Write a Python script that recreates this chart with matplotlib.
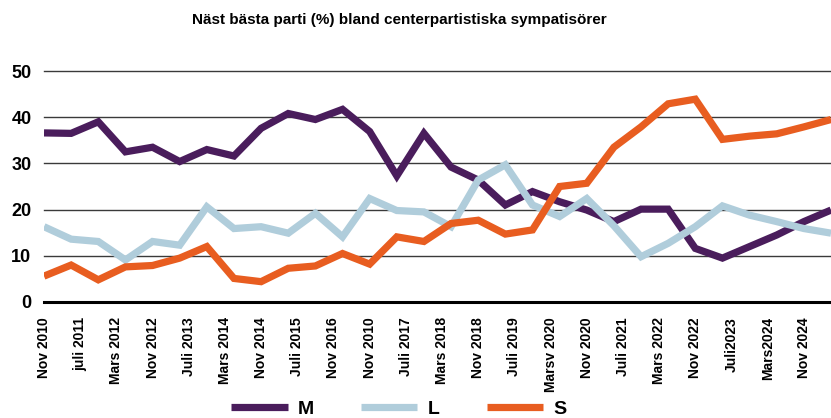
import numpy as np
import matplotlib
matplotlib.use('Agg')
import matplotlib.pyplot as plt

# --- data (30 survey points) --- #
m_vals = [36.6, 36.5, 39.0, 32.5, 33.5, 30.4, 33.0, 31.6, 37.6, 40.8,
          39.5, 41.7, 36.9, 27.3, 36.5, 29.2, 26.4, 21.0, 23.9, 21.7,
          19.9, 17.4, 20.1, 20.1, 11.6, 9.5, 12.0, 14.5, 17.4, 19.9]
l_vals = [16.3, 13.6, 13.1, 9.1, 13.1, 12.3, 20.6, 15.9, 16.3, 14.9,
          19.2, 14.1, 22.4, 19.8, 19.5, 16.3, 26.4, 29.7, 21.0, 18.5,
          22.4, 16.5, 9.8, 12.7, 16.3, 20.8, 18.8, 17.4, 15.9, 14.9]
s_vals = [5.6, 8.0, 4.8, 7.6, 7.9, 9.5, 12.0, 5.1, 4.4, 7.3,
          7.8, 10.5, 8.2, 14.1, 13.1, 17.0, 17.7, 14.7, 15.6, 25.0,
          25.7, 33.5, 37.9, 42.9, 43.9, 35.2, 35.9, 36.4, 37.9, 39.5]

tick_labels = ['Nov 2010', 'juli 2011', 'Mars 2012', 'Nov 2012', 'Juli 2013',
               'Mars 2014', 'Nov 2014', 'Juli 2015', 'Nov 2016', 'Nov 2010',
               'Juli 2017', 'Mars 2018', 'Nov 2018', 'Juli 2019', 'Marsv 2020',
               'Nov 2020', 'Juli 2021', 'Mars 2022', 'Nov 2022', 'Juli2023',
               'Mars2024', 'Nov 2024']

series = ['M', 'L', 'S']
colors = ['#4a1d5c', '#b0cddb', '#e85d20']

fig = plt.figure(figsize=(8.31, 4.18), dpi=100)
ax = fig.add_axes([44 / 831, 1 - 302 / 418, 1 - 44 / 831, (302 - 71) / 418])

x = np.arange(len(m_vals))
for vals, name, col in zip([m_vals, l_vals, s_vals], series, colors):
    ax.plot(x, vals, color=col, lw=5.2, label=name,
            solid_joinstyle='miter', solid_capstyle='butt', zorder=3)

# grid
for yv in [10, 20, 30, 40, 50]:
    ax.axhline(yv, color='#3a3a3a', lw=1.0, zorder=1, clip_on=False)
ax.axhline(0, color='black', lw=2.2, zorder=2, clip_on=False)

ax.set_xlim(0, len(m_vals) - 1)
ax.set_ylim(0, 50)
for sp in ax.spines.values():
    sp.set_visible(False)

ax.set_yticks([0, 10, 20, 30, 40, 50])
ax.tick_params(axis='y', length=0, pad=9, labelsize=13)
for t in ax.get_yticklabels():
    t.set_fontweight('bold')
    t.set_family(['Liberation Sans', 'DejaVu Sans'])

ax.set_xticks(np.linspace(0, 28, len(tick_labels)))
ax.set_xticklabels(tick_labels, rotation=90, fontsize=10, fontweight='bold',
                   family=['Liberation Sans Narrow', 'Liberation Sans', 'DejaVu Sans'])
ax.tick_params(axis='x', length=0, pad=11)

fig.text(399 / 831, 1 - 20 / 418,
         'Näst bästa parti (%) bland centerpartistiska sympatisörer',
         ha='center', va='center', fontsize=11, fontweight='bold',
         family=['Liberation Sans', 'DejaVu Sans'])

leg = fig.legend(loc='center', bbox_to_anchor=(399 / 831, 1 - 409 / 418),
                 ncol=3, frameon=False, handlelength=2.9, handletextpad=0.55,
                 columnspacing=2.4, prop={'family': ['Liberation Sans', 'DejaVu Sans'],
                                          'size': 14, 'weight': 'bold'})
for h in leg.get_lines():
    h.set_linewidth(5.2)

fig.savefig('out.png', dpi=100)
